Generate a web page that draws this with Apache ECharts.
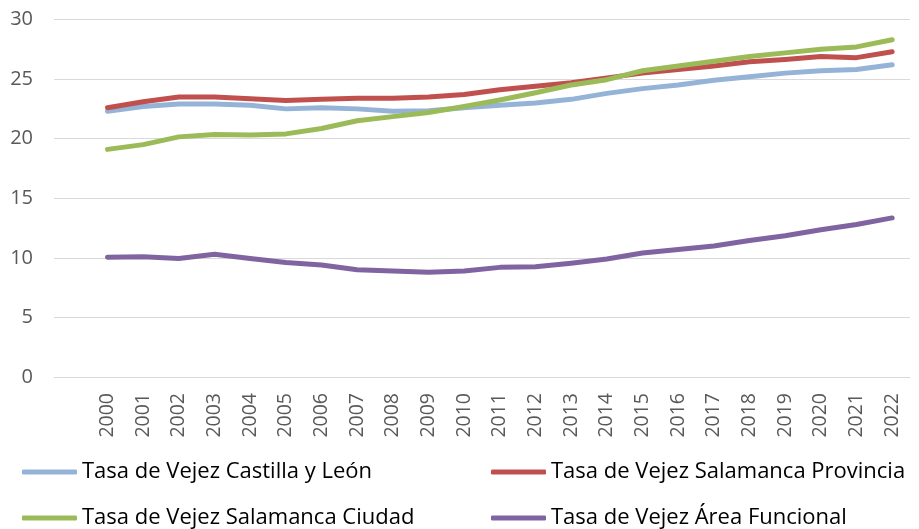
<!DOCTYPE html>
<html>
<head>
<meta charset="utf-8">
<script src="https://cdn.jsdelivr.net/npm/echarts@6/dist/echarts.min.js"></script>
<style>
  html, body { margin: 0; padding: 0; background: #fff; }
  #chart { width: 919px; height: 529px; }
</style>
</head>
<body>
<div id="chart"></div>
<script>
// Tasa de vejez 2000-2022 (first slot left empty, as in the source sheet)
const years = ['', '2000', '2001', '2002', '2003', '2004', '2005', '2006', '2007', '2008', '2009', '2010',
  '2011', '2012', '2013', '2014', '2015', '2016', '2017', '2018', '2019', '2020', '2021', '2022'];

const castillaLeon = [null, 22.3, 22.7, 22.9, 22.9, 22.8, 22.5, 22.6, 22.5, 22.3, 22.35, 22.6,
  22.8, 23.0, 23.3, 23.8, 24.2, 24.5, 24.9, 25.2, 25.5, 25.7, 25.8, 26.2];
const salamancaProvincia = [null, 22.6, 23.1, 23.5, 23.5, 23.35, 23.2, 23.3, 23.4, 23.4, 23.5, 23.7,
  24.1, 24.4, 24.7, 25.1, 25.5, 25.8, 26.1, 26.45, 26.65, 26.9, 26.8, 27.3];
const salamancaCiudad = [null, 19.1, 19.5, 20.15, 20.35, 20.3, 20.4, 20.85, 21.5, 21.85, 22.2, 22.7,
  23.25, 23.85, 24.5, 24.95, 25.7, 26.1, 26.5, 26.9, 27.2, 27.5, 27.7, 28.3];
const areaFuncional = [null, 10.05, 10.1, 9.95, 10.3, 9.95, 9.6, 9.4, 9.0, 8.9, 8.8, 8.9,
  9.2, 9.25, 9.55, 9.9, 10.4, 10.7, 11.0, 11.45, 11.85, 12.35, 12.8, 13.35];

const names = [
  'Tasa de Vejez Castilla y León',
  'Tasa de Vejez Salamanca Provincia',
  'Tasa de Vejez Salamanca Ciudad',
  'Tasa de Vejez Área Funcional',
];
const colors = ['#95B3D7', '#C0504D', '#9BBB59', '#8064A2'];
const values = [castillaLeon, salamancaProvincia, salamancaCiudad, areaFuncional];

const FONT = "'Open Sans', sans-serif";
const legendPos = [[22, 459], [491, 459], [22, 505], [491, 505]];

const chart = echarts.init(document.getElementById('chart'));

chart.setOption({
  animation: false,
  textStyle: { fontFamily: FONT },
  grid: { left: 54, right: 9, top: 19.5, bottom: 152 },
  legend: names.map((n, i) => ({
    data: [n],
    left: legendPos[i][0],
    top: legendPos[i][1],
    padding: 0,
    icon: 'roundRect',
    itemWidth: 55,
    itemHeight: 5,
    textStyle: { fontSize: 22, color: '#000', lineHeight: 26, fontFamily: FONT },
  })),
  xAxis: {
    type: 'category',
    data: years,
    boundaryGap: true,
    axisLine: { lineStyle: { color: '#d9d9d9', width: 1 } },
    axisTick: { show: false },
    axisLabel: { interval: 0, rotate: 90, margin: 16, fontSize: 19.5, color: '#595959' },
  },
  yAxis: {
    type: 'value',
    min: 0, max: 30, interval: 5,
    axisLine: { show: false },
    axisTick: { show: false },
    axisLabel: { margin: 21, fontSize: 20, color: '#595959' },
    splitLine: { lineStyle: { color: '#d9d9d9', width: 1 } },
  },
  series: names.map((n, i) => ({
    name: n,
    type: 'line',
    data: values[i],
    showSymbol: false,
    symbol: 'none',
    lineStyle: { width: 5, color: colors[i], cap: 'round', join: 'round' },
    itemStyle: { color: colors[i] },
  })),
});
</script>
</body>
</html>
